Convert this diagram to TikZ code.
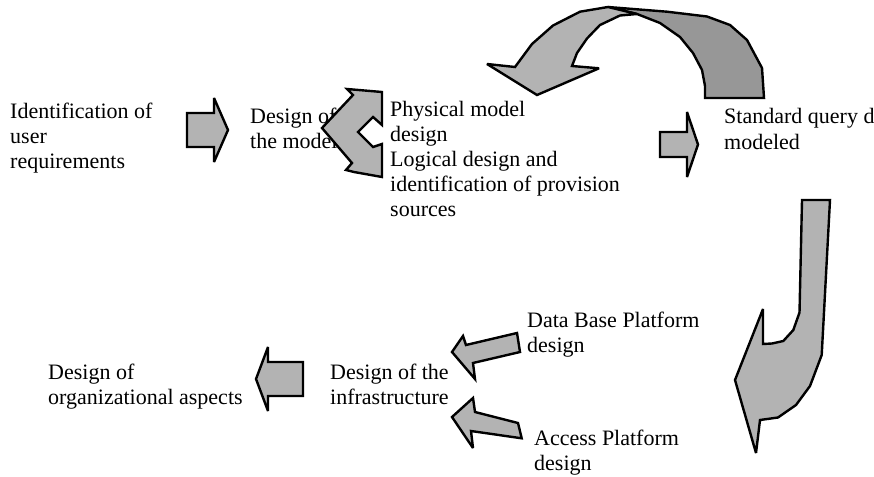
\documentclass[tikz,border=0pt]{standalone}
\usepackage{fontspec}
\setmainfont{Liberation Serif}
\definecolor{arrowgray}{HTML}{B3B3B3}
\definecolor{darkgray}{HTML}{979797}
\begin{document}
\begin{tikzpicture}[x=1pt,y=-1pt,
  lbl/.style={anchor=base west, inner sep=0pt, align=left, font=\fontsize{22}{25}\selectfont},
  blk/.style={draw=black, line width=2.4pt, line join=miter, miter limit=4, fill=arrowgray},
  blkdark/.style={blk, fill=darkgray}]
\useasboundingbox (0,0) rectangle (874,476);

% texts (anchor = baseline of the last line)
\node[lbl] (ident) at (10,168) {Identification of\\user\\requirements};
\node[lbl] (model) at (250,148) {Design of\\the model};
\node[lbl] (phys) at (390,141) {Physical model\\design};
\node[lbl] (logic) at (390,216) {Logical design and\\identification of provision\\sources};
\node[lbl] (query) at (724,149) {Standard query d\\modeled};
\node[lbl] (dbp) at (527,352) {Data Base Platform\\design};
\node[lbl] (acc) at (534,470) {Access Platform\\design};
\node[lbl] (infra) at (330,404) {Design of the\\infrastructure};
\node[lbl] (org) at (48,404) {Design of\\organizational aspects};

% arrow 1: requirements -> model
\draw[blk] (187,113) -- (214,113) -- (214,98) -- (228,130) -- (214,162) -- (214,147) -- (187,147) -- cycle;

% double arrow to physical / logical
\draw[blk] (322,128) -- (353,95) -- (347,89) -- (382,92) -- (382,125) -- (373,117)
  -- (358,132) -- (373,147) -- (382,144) -- (382,177) -- (354,172) -- (346,170)
  -- (352,163) -- cycle;

% curved arrow at top: dark back part
\draw[blkdark] (608,7) -- (667,11.7) -- (707,16.5) -- (730,25) -- (747,40) -- (762,68)
  -- (764,98) -- (705,98) -- (705,86) -- (702,70) -- (693,53) -- (680,37) -- (660,23) -- (637,14) -- cycle;
% curved arrow at top: light front part
\draw[blk] (608,7) -- (637,14) -- (620,15.5) -- (600,25) -- (587,38.5) -- (577,53) -- (572,66)
  -- (599,68.3) -- (537,95) -- (487,64) -- (515,67) -- (532,44) -- (553,25.5) -- (580,11.7) -- cycle;

% arrow 2: -> standard query
\draw[blk] (660,132) -- (687,132) -- (687,112) -- (698,144.5) -- (687,177) -- (687,157) -- (660,157) -- cycle;

% J arrow
\draw[blk] (802,200) -- (830,200) -- (821.7,355) -- (810,386) -- (796,405) -- (778,417.5) -- (760,420)
  -- (756,453) -- (735,380) -- (763,309) -- (763,344) -- (772,343.5) -- (783.3,341)
  -- (793.3,330) -- (799.5,312.5) -- cycle;

% small arrows into infrastructure
\draw[blk] (452,352) -- (463,336) -- (466,345) -- (517,333) -- (520,352) -- (473,363) -- (475,379) -- cycle;
\draw[blk] (452,417) -- (473,398) -- (475,412) -- (518,423) -- (521.7,438.3) -- (471,431) -- (473,448) -- cycle;

% left arrow: infrastructure -> organizational
\draw[blk] (256,379) -- (268,347) -- (268,362) -- (303,362) -- (303,396) -- (268,396) -- (268,411) -- cycle;
\end{tikzpicture}
\end{document}
